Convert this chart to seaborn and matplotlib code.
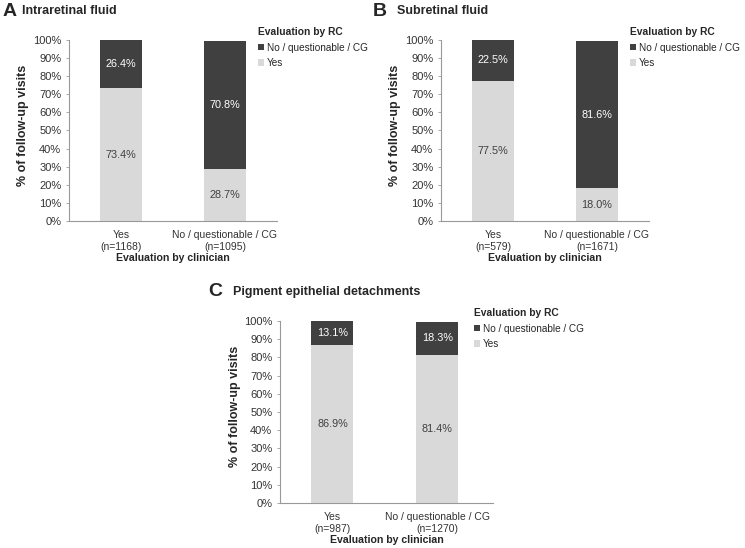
import numpy as np
import pandas as pd
import seaborn as sns
import matplotlib.pyplot as plt
from matplotlib.patches import Patch

sns.set_style("white")
plt.rcParams['font.family'] = ['Liberation Sans', 'DejaVu Sans']

clinician = ['Yes', 'No / questionable / CG']
rc_labels = ['No / questionable / CG', 'Yes']

panels = ['A', 'B', 'C']
titles = ['Intraretinal fluid', 'Subretinal fluid', 'Pigment epithelial detachments']
n_counts = [[1168, 1095], [579, 1671], [987, 1270]]
rc_yes = [[73.4, 28.7], [77.5, 18.0], [86.9, 81.4]]
rc_no = [[26.4, 70.8], [22.5, 81.6], [13.1, 18.3]]

dark = '#404040'
light = '#d9d9d9'

W, H = 745, 548
fig = plt.figure(figsize=(W / 100, H / 100), dpi=100)

# axes boxes in pixels: left, top, right, bottom
boxes = [(69, 40, 277, 221), (441, 40, 649, 221), (280, 321, 493, 503)]
letter_x = [3, 373, 208]
title_x = [22, 397, 233]


def px_axes(b):
    l, t, r, bt = b
    return fig.add_axes([l / W, 1 - bt / H, (r - l) / W, (bt - t) / H])


for i, b in enumerate(boxes):
    ax = px_axes(b)
    df = pd.DataFrame({
        'clin': clinician,
        'yes': rc_yes[i],
        'no': rc_no[i],
    })
    df['total'] = df['yes'] + df['no']
    sns.barplot(data=df, x='clin', y='total', color=dark, width=0.4,
                saturation=1, linewidth=0, ax=ax)
    sns.barplot(data=df, x='clin', y='yes', color=light, width=0.4,
                saturation=1, linewidth=0, ax=ax)
    for j in range(len(df)):
        y, n = df['yes'][j], df['no'][j]
        ax.text(j, y / 2, f'{y:.1f}%', ha='center', va='center',
                fontsize=7.8, color=dark)
        ax.text(j, y + n / 2, f'{n:.1f}%', ha='center', va='center',
                fontsize=7.8, color='white')
    ax.set_xlim(-0.5, 1.5 if i < 2 else 1.53)
    ax.set_ylim(0, 100)
    ax.set_yticks(np.arange(0, 101, 10))
    ax.set_yticklabels([f'{v}%' for v in range(0, 101, 10)], fontsize=8,
                       color='#333333')
    ax.set_xticks(range(2))
    ax.set_xticklabels([f'{c}\n(n={n})' for c, n in zip(clinician, n_counts[i])],
                       fontsize=7.5, color='#333333', linespacing=1.25)
    ax.tick_params(axis='y', left=True, length=2.5, width=0.6, color='#999999', pad=3)
    ax.tick_params(axis='x', bottom=False, pad=3)
    for s in ['top', 'right']:
        ax.spines[s].set_visible(False)
    for s in ['left', 'bottom']:
        ax.spines[s].set_color('#999999')
        ax.spines[s].set_linewidth(0.8)
    ax.set_xlabel('Evaluation by clinician', fontsize=7.6, fontweight='bold',
                  labelpad=1)
    ax.set_ylabel('% of follow-up visits', fontsize=9, fontweight='bold')
    ax.yaxis.set_label_coords(-0.19 if i < 2 else -0.185, 0.53)

    l, t, r, bt = b
    # panel letter and title
    fig.text(letter_x[i] / W, 1 - (t - 29) / H, panels[i], fontsize=14,
             fontweight='bold', ha='left', va='center')
    fig.text(title_x[i] / W, 1 - (t - 29) / H, titles[i], fontsize=9,
             fontweight='bold', ha='left', va='center')

    handles = [Patch(facecolor=dark, edgecolor='none'),
               Patch(facecolor=light, edgecolor='none')]
    leg = ax.legend(handles, rc_labels, title='Evaluation by RC',
                    loc='upper left', bbox_to_anchor=((r - 19) / W, 1 - (t - 13) / H),
                    bbox_transform=fig.transFigure, frameon=False,
                    fontsize=7.2, title_fontproperties={'weight': 'bold', 'size': 7.4},
                    handlelength=0.6, handleheight=0.6, handletextpad=0.3,
                    labelspacing=0.55, borderpad=0, borderaxespad=0)
    leg._legend_box.align = 'left'
    leg._legend_box.sep = 4

fig.savefig('out.png', dpi=100)
